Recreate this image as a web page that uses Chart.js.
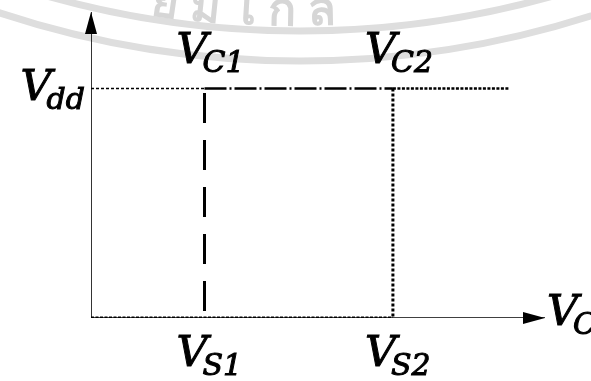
<!DOCTYPE html>
<html>
<head>
<meta charset="utf-8">
<script src="https://cdn.jsdelivr.net/npm/chart.js@4.4.1/dist/chart.umd.min.js"></script>
<style>
  html, body { margin: 0; padding: 0; background: #fff; }
  #wrap { width: 591px; height: 381px; }
</style>
</head>
<body>
<div id="wrap"><canvas id="chart"></canvas></div>
<script>
// Data
const xMax = 10;
const yMax = 10;
const vS = [2.5, 6.65];          // V_S1, V_S2 on the V_C axis
const vdd = 7.5;                 // V_dd level
const vddEnd = 9.2;              // where the V_dd line stops
const vS1Top = 7.35;             // long-dash line stops a little under V_dd
const xTickLabels = [['V', 'S1'], ['V', 'S2']];
const topLabels = [['V', 'C1'], ['V', 'C2']];
const yTickLabel = ['V', 'dd'];
const xAxisLabel = ['V', 'C'];
const watermarkText = 'ยมโกล';

function seg(points, opts) {
    return Object.assign({
        data: points,
        showLine: true,
        borderColor: '#000',
        borderWidth: 1.6,
        pointRadius: 0,
        fill: false,
        tension: 0
    }, opts);
}

// Labels with subscripts (fill + thin stroke to get the heavy scanned look)
const mainFont = 'italic 43px "DejaVu Serif"';
const subFont = 'italic 30px "DejaVu Serif"';
function put(ctx, t, x, y) {
    ctx.fillText(t, x, y);
    ctx.strokeText(t, x, y);
}
function drawSub(ctx, left, base, parts) {
    ctx.font = mainFont;
    put(ctx, parts[0], left, base);
    const w = ctx.measureText(parts[0]).width;
    ctx.font = subFont;
    put(ctx, parts[1], left + w - 5, base + 9);
}
function subWidth(ctx, parts) {
    ctx.font = mainFont;
    const w = ctx.measureText(parts[0]).width;
    ctx.font = subFont;
    return w - 5 + ctx.measureText(parts[1]).width;
}

// faint seal watermark from the scan
const watermark = {
    id: 'watermark',
    beforeDatasetsDraw(chart) {
        const ctx = chart.ctx;
        ctx.save();
        ctx.strokeStyle = '#dedede';
        ctx.lineWidth = 7;
        const cx = 300, cy = -900;
        [931, 961].forEach(r => {
            ctx.beginPath();
            ctx.arc(cx, cy, r, 0, Math.PI);
            ctx.stroke();
        });
        ctx.fillStyle = '#d6d6d6';
        ctx.font = 'bold 46px "Noto Sans", sans-serif';
        ctx.textAlign = 'left';
        ctx.textBaseline = 'alphabetic';
        const r = 925;
        let x = 150;
        for (const ch of watermarkText) {
            const w = ctx.measureText(ch).width;
            const a = Math.acos((x + w / 2 - cx) / r);
            ctx.save();
            ctx.translate(x, cy + r * Math.sin(a));
            ctx.rotate(a - Math.PI / 2);
            ctx.fillText(ch, 0, 0);
            ctx.restore();
            x += w + 12;
        }
        ctx.restore();
    }
};

const axesAndLabels = {
    id: 'axesAndLabels',
    afterDatasetsDraw(chart) {
        const ctx = chart.ctx;
        const xs = chart.scales.x, ys = chart.scales.y;
        const x0 = xs.getPixelForValue(0), y0 = ys.getPixelForValue(0);
        const xe = xs.getPixelForValue(xMax), ye = ys.getPixelForValue(yMax);
        ctx.save();
        ctx.fillStyle = '#000';
        ctx.strokeStyle = '#000';
        ctx.lineWidth = 1;
        // arrow heads
        ctx.beginPath();
        ctx.moveTo(x0, ye);
        ctx.lineTo(x0 - 6, ye + 22);
        ctx.lineTo(x0 + 6, ye + 22);
        ctx.closePath();
        ctx.fill();
        ctx.beginPath();
        ctx.moveTo(xe, y0);
        ctx.lineTo(xe - 22, y0 - 6);
        ctx.lineTo(xe - 22, y0 + 6);
        ctx.closePath();
        ctx.fill();

        ctx.textBaseline = 'alphabetic';
        ctx.textAlign = 'left';
        vS.forEach((v, i) => {
            const px = xs.getPixelForValue(v);
            drawSub(ctx, px - 28, y0 + 48, xTickLabels[i]);
            drawSub(ctx, px - 28, ys.getPixelForValue(vdd) - 26, topLabels[i]);
        });
        const w = subWidth(ctx, yTickLabel);
        drawSub(ctx, x0 - 6 - w, ys.getPixelForValue(vdd) + 11, yTickLabel);
        drawSub(ctx, xe + 2, y0 + 7, xAxisLabel);
        ctx.restore();
    }
};

new Chart(document.getElementById('chart'), {
    type: 'scatter',
    data: {
        datasets: [
            seg([{x: 0, y: 0}, {x: xMax, y: 0}]),
            seg([{x: 0, y: 0}, {x: 0, y: yMax}]),
            // dotted overlay on the V_C axis up to V_S2
            seg([{x: 0, y: 0}, {x: vS[1], y: 0}], {borderWidth: 2.8, borderDash: [3, 1.5]}),
            // V_dd line
            seg([{x: 0, y: vdd}, {x: vS[0], y: vdd}], {borderWidth: 1.3, borderDash: [3, 2]}),
            seg([{x: vS[0], y: vdd}, {x: vS[1], y: vdd}], {borderWidth: 2.6, borderDash: [22, 3, 2, 3]}),
            seg([{x: vS[1], y: vdd}, {x: vddEnd, y: vdd}], {borderWidth: 2.6, borderDash: [3, 1.5]}),
            // V_S1 long dashes, V_S2 dots
            seg([{x: vS[0], y: vS1Top}, {x: vS[0], y: 0}], {borderWidth: 3, borderDash: [30, 17]}),
            seg([{x: vS[1], y: vdd}, {x: vS[1], y: 0}], {borderWidth: 3, borderDash: [3, 2]})
        ]
    },
    options: {
        responsive: true,
        maintainAspectRatio: false,
        animation: false,
        layout: { padding: { left: 91, right: 46, top: 12, bottom: 63 } },
        plugins: { legend: { display: false }, tooltip: { enabled: false } },
        scales: {
            x: { type: 'linear', min: 0, max: xMax, display: false },
            y: { type: 'linear', min: 0, max: yMax, display: false }
        }
    },
    plugins: [watermark, axesAndLabels]
});
</script>
</body>
</html>
